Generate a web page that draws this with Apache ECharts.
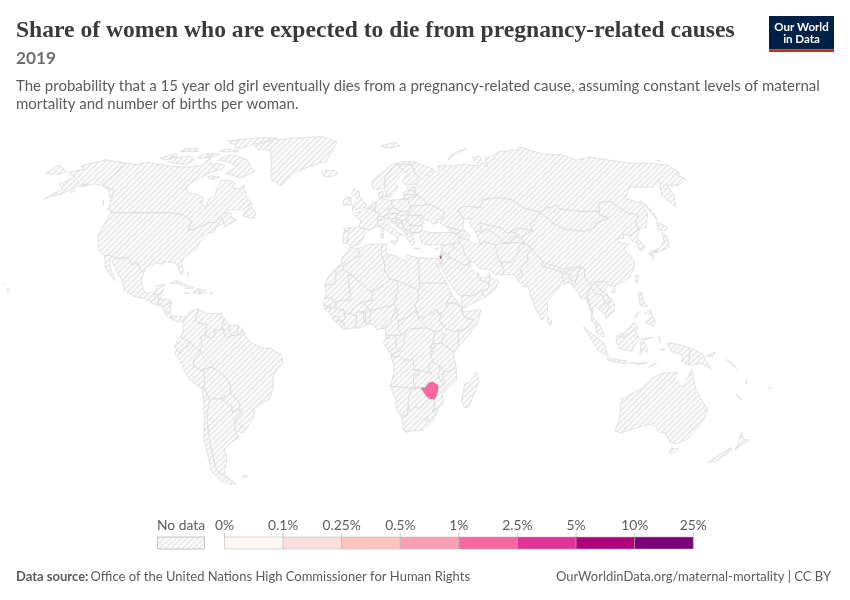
<!DOCTYPE html>
<html><head><meta charset="utf-8">
<script src="https://cdn.jsdelivr.net/npm/echarts@6/dist/echarts.min.js"></script>
<style>html,body{margin:0;padding:0;background:#fff}#c{width:850px;height:600px}</style>
</head><body><div id="c"></div>
<script>
// ---- DATA ----
const chartTitle = 'Share of women who are expected to die from pregnancy-related causes';
const chartYear = '2019';
const subtitleLines = ['The probability that a 15 year old girl eventually dies from a pregnancy-related cause, assuming constant levels of maternal','mortality and number of births per woman.'];
const legendTicks = ['0%','0.1%','0.25%','0.5%','1%','2.5%','5%','10%','25%'];
const binEdges = [0,0.1,0.25,0.5,1,2.5,5,10,25];
const binColors = ['#fff7f3','#fde0dd','#fcc5c0','#fa9fb5','#f768a1','#dd3497','#ae017e','#7a0177'];
const countryNames = ['Zimbabwe','Palestine'];
const countryValues = [1.7,6];
// outlines: lon,lat pairs
const americas = {
 Canada:["-141,69.6 -135,69 -128,70 -125,69.5 -115,68.5 -108,68 -100,68 -95,69 -94,72 -90,69 -85,69.5 -81.5,68.5 -82,67 -87,65.5 -93,62 -94.5,59 -92,57 -88,56.5 -82.5,55 -82,52.5 -79.5,51.3 -79,52 -79,54.5 -77,56 -78,58.5 -78,62.3 -73,62 -70,61 -69.5,59 -66,58.5 -64.5,60.3 -62,57.5 -60,55 -56,52.5 -60,50.2 -66,50.2 -69,48.5 -65,49 -64.5,47.5 -61,46 -66,43.7 -67,45 -69,47.4 -71,45.3 -75,45 -76.5,44 -79,43.3 -79,42.8 -83,42 -82.5,45.3 -84.5,46.5 -88.5,48.3 -95,49 -102,49 -110,49 -116,49 -123,49 -127,51 -130,54.7 -130,56 -133,58.5 -137,59 -139,60 -141,60.3",
 "-62,66 -68,63 -72,64 -78,65 -74,68 -80,70 -88,71 -85,73.5 -78,73 -70,71 -66,68","-117,70 -105,69 -102,71 -108,73 -118,72","-62,82.5 -72,83 -90,81.5 -85,77 -80,76.5 -76,78.5 -68,80.5","-125,72 -118,74 -116,73 -120,71","-80,75 -92,75 -90,76.5 -80,75.5","-90,79 -95,81 -88,81 -86,79","-117,75 -106,75 -108,76.5 -116,76.5","-92,73 -96,72 -95,74 -91,74","-97,72 -102,72 -100,74 -95,74","-85,64 -80,63.5 -84,62.5 -87,63.5","-59,47.7 -53,46.7 -53,49 -56,51.5 -58,50","-123.5,48.5 -128,50.7 -125,50","-132,53 -131,52 -133,54"],
 'United States':["-123,49 -116,49 -110,49 -102,49 -95,49 -88.5,48.3 -84.5,46.5 -82.5,45.3 -83,42 -79,42.8 -79,43.3 -76.5,44 -75,45 -71,45.3 -69,47.4 -67,45 -70,43.5 -70,41.7 -74,40.6 -75.5,38 -76,35 -78,34 -81,32 -81.3,30 -80,26.5 -80.5,25.2 -82,27 -83,29 -85,29.7 -89,30.2 -89.5,29.2 -93,29.7 -97,28 -97.3,26 -99.5,27.5 -101.5,29.8 -103,29 -106.5,31.8 -111,31.3 -114.8,32.5 -117.1,32.5 -120.5,34.5 -122.5,37.5 -124.3,40.3 -124,46 -124.7,48.4",
 "-141,69.6 -141,60.3 -139,60 -137,59 -133,58.5 -130,56 -131,55 -134,57.5 -140,59.7 -146,60.7 -151,59.3 -150,61 -154,59 -158,56.5 -164,54.6 -160,58.5 -165,60.5 -161,63.5 -165,64.5 -168,65.6 -162,67 -166,68.5 -156.5,71.2 -150,70.5","-156,20.2 -155,19.3 -155.8,19 -156,20","-158.2,21.5 -157.7,21.3 -158,21.7","-154,57.5 -152.5,58 -153,57"],
 Mexico:["-117.1,32.5 -114.8,32.5 -111,31.3 -106.5,31.8 -103,29 -101.5,29.8 -99.5,27.5 -97.3,26 -97.8,22.5 -96,19 -94,18.2 -91,18.8 -90.5,21 -87,21.5 -88,18.5 -89.2,17.8 -91,17.8 -91,16 -92.2,14.6 -95,16 -100,17 -105,19.5 -105.5,22 -109,26 -112.5,30 -114.5,31.5 -113,28 -110,24 -109.5,23 -112,25 -115,28"],
 Guatemala:["-92.2,14.6 -91,16 -91,17.8 -89.2,17.8 -89.2,15.9 -88.5,15.9 -89.3,14.4 -90,13.8"],
 Belize:["-89.2,17.8 -88.2,18.4 -88.3,16.2 -89.2,15.9"],
 Honduras:["-88.5,15.9 -85,16 -83.2,15 -84.8,14 -87.3,13 -87.8,13.4 -89.3,14.4"],
 'El Salvador':["-90,13.8 -89.3,14.4 -87.8,13.4 -88,13.1"],
 Nicaragua:["-87.3,13 -84.8,14 -83.2,15 -83.7,11 -85.7,11 -87.5,12.8"],
 'Costa Rica':["-85.7,11 -83.7,11 -82.6,9.5 -83,8.3 -85.7,10"],
 Panama:["-83,8.3 -82.6,9.5 -79.5,9.5 -77.3,8.7 -77.8,7.5 -80.5,7.3 -81.5,7.8"],
 Cuba:["-85,22 -82,23 -77,21 -74.2,20.2 -77.7,19.9 -78,20.7 -82,22"],
 Haiti:["-74.4,18.4 -71.7,18 -71.7,19.8 -73,19.9"],
 'Dominican Republic':["-71.7,18 -68.5,18.4 -69.5,19.4 -71.7,19.8"],
 Jamaica:["-78.3,18.3 -76.3,18.1 -77,18.5"],
 'Puerto Rico':["-67.2,18 -65.7,18.2 -66.3,18.5"],
 Trinidad:["-61.9,10.1 -61,10.2 -61.2,10.7"],
 Bahamas:["-78,25 -77.5,26.5 -77.2,25.5"],
 Greenland:["-73,78.3 -68,76 -60,76 -55,70 -53,66 -50,62 -44,60 -40,65 -32,68 -22,70.5 -20,75 -18,80 -30,83.5 -50,82.5 -62,81.5 -66,80.5"],
 Colombia:["-77.3,8.7 -75.5,10.7 -72,12.2 -71.5,11 -72.5,8 -71,7 -67.5,6.2 -67.8,2 -69.9,1.7 -69.4,-1 -70,-4.2 -72.5,-2.4 -75.2,0 -78.8,1.4 -77.5,4 -77.8,7.5"],
 Venezuela:["-72,12.2 -68,10.5 -62,10.6 -60,8.5 -61,5.2 -60,4.5 -64,4 -64,1.5 -66.8,1.2 -67.8,2 -67.5,6.2 -71,7 -72.5,8 -71.5,11"],
 Guyana:["-60,8.5 -57.3,6 -58,4 -56.5,1.9 -58.8,1.2 -60,2.5 -60,4.5 -61,5.2"],
 Suriname:["-57.3,6 -54,5.9 -54.3,2.3 -56.5,1.9 -58,4"],
 'French Guiana':["-54,5.9 -51.7,4.2 -52.8,2.3 -54.3,2.3"],
 Ecuador:["-78.8,1.4 -75.2,0 -75.3,-1.5 -78.3,-3.4 -79,-5 -80.3,-3.4 -81,-2 -80,0.5"],
 Peru:["-81.3,-4.5 -80.3,-3.4 -79,-5 -78.3,-3.4 -75.3,-1.5 -75.2,0 -72.5,-2.4 -70,-4.2 -73,-7 -73.5,-9.5 -70.6,-11 -69,-11 -69,-16.5 -69.5,-17.5 -70.4,-18.3 -76,-14 -79,-8"],
 Bolivia:["-69.6,-11 -65.4,-9.8 -60,-13.5 -58,-16.3 -58,-20 -62.6,-22 -66.2,-22 -67.7,-22.8 -68.5,-20 -69.5,-17.5 -69,-16.5 -69,-11"],
 Chile:["-70.4,-18.3 -69.5,-17.5 -68.5,-20 -67.7,-22.8 -69.7,-28 -70.3,-33 -71.2,-39 -71.9,-45 -72.3,-50 -68.5,-52.3 -65.5,-54.8 -69,-55 -72,-54 -75.3,-50 -74,-43 -73.5,-37 -71.5,-31 -70.2,-22"],
 Argentina:["-66.2,-22 -62.6,-22 -58,-24.8 -58.2,-27.2 -54.7,-26 -53.8,-27.2 -57.6,-30.2 -58.4,-34 -57,-36.5 -62,-39 -65,-41 -65.5,-45 -69,-50.5 -68.5,-52.3 -72.3,-50 -71.9,-45 -71.2,-39 -70.3,-33 -69.7,-28 -67.7,-22.8"],
 Paraguay:["-62.6,-22 -58,-20 -55.8,-22.3 -54.5,-24 -54.7,-26 -58.2,-27.2 -58,-24.8"],
 Uruguay:["-57.6,-30.2 -53.3,-33.7 -55,-35 -58.4,-34"],
 Brazil:["-60,4.5 -60,2.5 -58.8,1.2 -56.5,1.9 -54.3,2.3 -52.8,2.3 -51.7,4.2 -50,1 -48,-0.7 -44,-2.5 -40,-2.8 -35.3,-5.2 -34.8,-8 -39,-13 -39.5,-18 -41,-22 -45,-23.7 -48.5,-26 -49,-29 -53.3,-33.7 -57.6,-30.2 -53.8,-27.2 -54.7,-26 -54.5,-24 -55.8,-22.3 -58,-20 -58,-16.3 -60,-13.5 -65.4,-9.8 -69.6,-11 -70.6,-11 -73.5,-9.5 -73,-7 -70,-4.2 -69.4,-1 -69.9,1.7 -67.8,2 -66.8,1.2 -64,1.5 -64,4"],
 Falklands:["-61,-51.8 -58,-51.5 -59,-52.3"]
};
const africa = {
 Morocco:["-5.9,35.8 -2.2,35.1 -1.2,32.5 -5,31 -8.7,28.7 -11.5,28.2 -9.8,29.5 -9.5,32 -6.8,34"],
 'Western Sahara':["-11.5,28.2 -8.7,28.7 -8.7,27.3 -12,26 -12,23.5 -13,21.3 -17,21.4 -15,25"],
 Algeria:["-2.2,35.1 3,36.9 8.6,36.9 8.3,33 9.5,30 9.8,26.5 12,23.5 5.5,19.2 3.2,19 -4.9,25 -8.7,27.3 -8.7,28.7 -5,31 -1.2,32.5"],
 Tunisia:["8.6,36.9 11,37 10.5,34 11.5,33 9.5,30 8.3,33"],
 Libya:["11.5,33 15,32.3 19,30.3 20,32.7 25,31.7 25,20 24,19.5 15,23 12,23.5 9.8,26.5 9.5,30"],
 Egypt:["25,31.7 31,31.5 34.2,31.3 34.9,29.5 34.2,27.8 33.2,28.5 32.6,29.9 34,26.5 37,22 25,22"],
 Sudan:["25,22 37,22 38.6,18 36.5,14.3 36,12.7 34.2,10.5 33,10 32,12 28,9.5 24,8.7 23.5,11 22.5,14 24,15.7 24,19.5 25,20"],
 'South Sudan':["24,8.7 28,9.5 32,12 33,10 34.2,10.5 33,7.9 35,5.2 33.9,4.2 30.8,3.5 27.5,5"],
 Eritrea:["36.5,14.3 38.6,18 43,12.7 40,14.5"],
 Ethiopia:["36.5,14.3 40,14.5 43,12.7 42.9,11 44,9 48,8 45,5 42,4 39.5,3.5 35.9,4.6 35,5.2 33,7.9 34.2,10.5 36,12.7"],
 Djibouti:["43,12.7 43.3,11.5 42.9,11"],
 Somalia:["42.9,11 51.2,11.9 50,8 46,2.5 41.5,-1.7 41,-0.8 41,3.9 42,4 45,5 48,8 44,9"],
 Kenya:["35.9,4.6 39.5,3.5 42,4 41,3.9 41,-0.8 41.5,-1.7 39.2,-4.7 37.7,-3.2 34,-1 34,1 35,2"],
 Uganda:["30.8,3.5 33.9,4.2 35,2 34,1 34,-1 29.8,-1 30.5,1"],
 Tanzania:["34,-1 37.7,-3.2 39.2,-4.7 39.5,-7 40.4,-10.4 37,-11.6 34.9,-11.5 33.3,-9.5 31,-8.6 29.3,-6 29.8,-4.4 30.8,-2.5 30.5,-1"],
 Rwanda:["29.8,-1 30.5,-1 30.8,-2.5 29,-2.7"],
 Burundi:["29,-2.7 30.8,-2.5 29.8,-4.4 29.2,-3.5"],
 'DR Congo':["12.2,-6 12.3,-5 13.5,-4.6 16,-3.7 17.5,-1 17.7,1.5 18.5,3.5 19,4.5 25,5 27.5,5 30.8,3.5 30.5,1 29.8,-1 29,-2.7 29.2,-3.5 29.3,-6 30.7,-8.2 28.9,-8.5 28.5,-11 29.7,-12.2 28,-12 25.5,-11.4 22,-11 21.8,-7.3 17.5,-7.2 16,-5.9"],
 Angola:["12.2,-6 16,-5.9 17.5,-7.2 21.8,-7.3 22,-11 24,-11 24,-13 22,-13 22,-16 23.4,-17.6 20.8,-18 13.9,-17.4 11.8,-17.3 13.5,-12 13.2,-9"],
 Zambia:["22,-11 25.5,-11.4 28,-12 29.7,-12.2 28.5,-11 28.9,-8.5 30.7,-8.2 33.3,-9.5 32.8,-13.6 30.3,-15.6 28.8,-16 25.3,-17.8 23.4,-17.6 22,-16 22,-13 24,-13 24,-11"],
 Malawi:["33.3,-9.5 34.9,-11.5 34.8,-14 35.8,-16 35.2,-17 34.3,-15.5 33,-14 32.8,-13.6"],
 Mozambique:["40.4,-10.4 40.7,-15 37,-18 34.8,-20 35.5,-24 32.9,-26 32.9,-26.8 32,-26 31.3,-22.4 32,-21.3 32.8,-19 32.8,-16.9 30.3,-15.6 32.8,-13.6 33,-14 34.3,-15.5 35.2,-17 35.8,-16 34.8,-14 34.9,-11.5 37,-11.6"],
 Zimbabwe:["25.3,-17.8 27,-17.9 28.8,-16 30.3,-15.6 32.8,-16.9 32.8,-19 32,-21.3 31.3,-22.4 29.4,-22.2 27.5,-20.8 25.9,-18.8"],
 Botswana:["20,-22 21,-18.3 23.4,-18 25.3,-17.8 25.9,-18.8 27.5,-20.8 29.4,-22.2 27,-23.7 25.5,-25.7 23,-25.3 20.8,-26.8 20,-24.8"],
 Namibia:["11.8,-17.3 13.9,-17.4 20.8,-18 23.4,-17.6 25.3,-17.8 23.4,-18 21,-18.3 20,-22 20,-28.4 17,-28.7 15,-26.8 14.5,-22.5"],
 'South Africa':["17,-28.7 20,-28.4 20,-24.8 20.8,-26.8 23,-25.3 25.5,-25.7 27,-23.7 29.4,-22.2 31.3,-22.4 32,-26 32.9,-26.8 32.4,-28.5 30,-31.5 27,-34 22,-34.2 20,-34.8 18.4,-34 18,-32"],
 Lesotho:["27,-29.6 29,-28.7 29.4,-29.6 28,-30.6"],
 Eswatini:["31,-25.8 32,-26 31.8,-27 30.9,-26.8"],
 Madagascar:["49.3,-12 50.5,-15.5 47,-25 45,-25.5 43.5,-23 44.3,-16.5 46.5,-15.5"],
 Mauritania:["-17,21.4 -13,21.3 -12,23.5 -12,26 -8.7,27.3 -4.9,25 -6.5,25 -5.5,15.5 -9.5,15.5 -12.2,14.7 -14.5,16.6 -16.5,16 -16,19"],
 Mali:["-12.2,14.7 -9.5,15.5 -5.5,15.5 -6.5,25 -4.9,25 3.2,19 4.2,19 4,15.4 0.3,14.9 -3,13.5 -4.5,12 -5.5,10.4 -8,10.4 -8.3,11.7 -11.5,12.3"],
 Niger:["3.2,19 5.5,19.2 12,23.5 15,23 15.5,20 13.5,13.7 9,12.8 3.6,11.7 2.4,12.2 0.3,14.9 4,15.4 4.2,19"],
 Chad:["15,23 24,19.5 24,15.7 22.5,14 23.5,11 22,11 19,9 15.5,7.5 14,9 15,10 14.5,12.7 13.5,13.7 15.5,20"],
 'Central African Republic':["15.5,7.5 19,9 22,11 23.5,11 24,8.7 27.5,5 25,5 19,4.5 18.5,3.5 16,2 16.2,3 15,4.5"],
 Senegal:["-16.5,16 -14.5,16.6 -12.2,14.7 -11.5,12.3 -13.7,12.6 -16.7,12.4 -17.5,14.7"],
 Gambia:["-16.8,13.6 -14,13.7 -14,13.2 -16.8,13.2"],
 'Guinea-Bissau':["-16.7,12.4 -13.7,12.6 -15,11"],
 Guinea:["-13.7,12.6 -11.5,12.3 -8.3,11.7 -8,10.4 -7.8,8.5 -9.4,7.4 -10.7,9.3 -13,9.3 -15,11"],
 'Sierra Leone':["-13,9.3 -10.7,9.3 -10.4,8 -11.5,7 -13.2,8.3"],
 Liberia:["-11.5,7 -10.4,8 -9.4,7.4 -8.5,7.5 -7.5,4.4 -9,5"],
 "Cote d'Ivoire":["-8.5,7.5 -7.8,8.5 -8,10.4 -5.5,10.4 -2.8,9.5 -3,5.1 -7.5,4.4"],
 'Burkina Faso':["-5.5,10.4 -4.5,12 -3,13.5 0.3,14.9 2.4,12.2 0.9,11 -2.8,11 -2.8,9.5"],
 Ghana:["-2.8,11 0.1,11 0.5,8 1.2,6 -2,4.8 -3,5.1 -2.8,9.5"],
 Togo:["0.1,11 0.9,11 1.7,6.2 1.2,6 0.5,8"],
 Benin:["0.9,11 2.4,12.2 3.6,11.7 2.7,6.4 1.7,6.2"],
 Nigeria:["2.7,6.4 3.6,11.7 9,12.8 13.5,13.7 14.5,12.7 13,9.5 11.7,7 8.6,4.8 6,4.3 4.5,6.3"],
 Cameroon:["8.6,4.8 11.7,7 13,9.5 14.5,12.7 15,10 14,9 15.5,7.5 15,4.5 16.2,3 16,2 13.2,2.2 9.8,2.3 9.7,4"],
 Gabon:["9.8,1 11.3,1 11.3,2.2 13.2,2.2 14.3,1 14.2,-2.3 11.7,-3.5 11.1,-3.9 8.8,-0.8"],
 'Equatorial Guinea':["9.8,2.3 11.3,2.2 11.3,1 9.8,1"],
 Congo:["13.2,2.2 16,2 18.5,3.5 17.7,1.5 17.5,-1 16,-3.7 13.5,-4.6 12.3,-5 11.1,-3.9 11.7,-3.5 14.2,-2.3 14.3,1"]
};
const europe = {
 Iceland:["-24,65.5 -22,64 -18,63.5 -14,65 -16,66.4 -22,66.4"],
 Spain:["-9.3,43 -1.8,43.4 3.2,42.4 0.5,40.5 0,38.8 -2,36.8 -5.4,36 -7.4,37.2 -7,39.5 -6.6,41.9 -8.8,42"],
 Portugal:["-8.8,42 -6.6,41.9 -7,39.5 -7.4,37.2 -9,37 -9.5,38.7"],
 France:["-1.8,43.4 3.2,42.4 7.5,43.7 7,46 7.6,47.6 8.2,48.9 6,49.5 2.5,51 -1.5,49.5 -4.7,48.4 -1.2,46","8.7,42.5 9.5,43 9.4,41.4"],
 'United Kingdom':["-5.5,50 1.3,51.2 1.7,52.7 0,53.5 -1.8,55.5 -2,57.6 -5,58.6 -6,56.5 -3,54.5 -5,52","-8,54.4 -5.7,54.6 -6.2,55.2 -7.5,55.1"],
 Ireland:["-10,52 -6,52.2 -6,54 -8,54.4 -7.5,55.1 -8.3,55.2 -10,54"],
 Belgium:["2.5,51 4.3,51.4 6,50.7 6,49.5"],
 Netherlands:["3.5,51.4 5,53.2 7,53.3 6,50.7 4.3,51.4"],
 Germany:["6,50.7 7,53.3 9,54.8 14.2,53.9 15,51 12.2,50.3 13.8,48.7 10,47.5 7.6,47.6 8.2,48.9 6,49.5"],
 Switzerland:["7,46 7.6,47.6 10,47.5 10.4,46.6 9,46"],
 Italy:["7.5,43.7 7,46 9,46 10.4,46.6 12.2,47 13.7,46.5 12.3,45 12.5,44 16,41.8 18.5,40.2 16.8,40.5 16,38 15.7,40 12.5,41.5 10.2,43","12.5,38 15.6,38.2 15,36.7","8.3,41 9.7,41 9.5,39.2 8.5,39"],
 Austria:["10,47.5 13.8,48.7 17,48.7 16.2,46.9 13.7,46.5 12.2,47 10.4,46.6"],
 Denmark:["8.2,55 8.2,57 10.5,57.7 10.5,55 9,54.8","11,55.5 12.5,56 12.3,55"],
 Norway:["5,59 5,62 12,66 16,68.5 22,70.3 31,70.3 29,69 25,69 20,69 15,66 12.3,63.5 12,61 11.2,59 8,58","12,78 22,80 25,78 16,76.7"],
 Sweden:["11.2,59 12,61 12.3,63.5 15,66 20,69 24,66 21,64 17,61 19,59.5 16.5,57 14,55.5 12.8,55.5"],
 Finland:["20,69 25,69 29,69 29.5,66 31.5,62.8 27.8,60.5 23,60 21.5,61.5 25,65 24,66"],
 Estonia:["23.5,59.2 28,59.5 27.5,57.6 24.5,58"],
 Latvia:["21,57 24.5,58 27.5,57.6 28,56 25,56.3 21,56"],
 Lithuania:["21,56 25,56.3 28,56 26.7,55.5 23,54.3 21,55.3"],
 Poland:["14.2,53.9 19,54.4 23,54.3 23.5,52 24,50.7 22.7,49.2 18.8,49.6 15,51"],
 Czechia:["12.2,50.3 15,51 18.8,49.6 17,48.7 13.8,48.7"],
 Slovakia:["17,48.7 18.8,49.6 22.7,49.2 22,48.4 18,47.8"],
 Hungary:["16.2,46.9 17,48.7 18,47.8 22,48.4 22.9,48 21,46.2 18.8,45.9"],
 Slovenia:["13.7,46.5 16.2,46.9 16.2,46.4 15.5,45.5 13.6,45.5"],
 Croatia:["13.6,45.5 15.5,45.5 16.2,46.4 18.8,45.9 19,45 16,45 17,43.5 18.5,42.5 15,44.5"],
 Bosnia:["16,45 19,45 19.3,43.5 18.5,42.5 17,43.5"],
 Serbia:["18.8,45.9 21,46.2 22.5,44.2 23,43 22.3,42.3 20.5,42.3 19.3,43.5 19,45"],
 Montenegro:["18.5,42.5 19.3,43.5 20.5,42.5 19.3,41.9"],
 Albania:["19.3,41.9 20.5,42.3 21,40.7 20,39.7 19.4,40.5"],
 'North Macedonia':["20.5,42.3 22.3,42.3 23,41.3 21,40.7"],
 Greece:["21,40.7 23,41.3 26.3,41.5 24,40.5 23,40 24,38 23,36.5 21.5,37 21,38.5 20,39.7","23.5,35.5 26.3,35.2 24,35"],
 Bulgaria:["22.5,44.2 27.5,44 28.5,43.5 27.7,42 26.3,41.5 23,41.3 22.3,42.3 23,43"],
 Romania:["22.9,48 26.5,48.2 28.2,46.5 28.2,45.4 29.6,45 28.6,44 27.5,44 22.5,44.2 21,46.2"],
 Moldova:["26.5,48.2 29,47.8 30,46.4 28.2,45.4 28.2,46.5"],
 Ukraine:["24,50.7 24,51.7 31,52 34,52.3 40,49.6 39,47 35,46 36.5,45.3 33.5,44.5 32.5,46 30.7,46 30,46.4 29,47.8 26.5,48.2 22.9,48 22,48.4 22.7,49.2"],
 Belarus:["23,54.3 26.7,55.5 28,56 31,54.6 32,53 31,52 24,51.7 24,50.7 23.5,52"],
 Russia:["28,59.5 30,60 27.8,60.5 31.5,62.8 29.5,66 29,69 31,70.3 33,69.3 41,67 40,66 35,64.5 38,64 40,65.5 44,66.5 44,68.5 54,68.5 60,69 68,68.5 67,72 72.5,73 73,68 75,72 80,73 87,75 100,76 104,77.7 113,74 125,73.5 130,71 140,72.5 150,71 160,69.7 170,69.7 180,68.8 180,65 177,64.5 179,62.5 170,60 164,60 162,56 156.7,51 155.5,56 163,62 160,61 155,59.3 143,59.3 135,54.7 141,53 140,48.5 135,43.5 131,42.6 131,45 135,48.3 130.5,48.8 126,53.5 120,53 117,49.6 108,49.5 98,50.5 98,52 92,50.7 87.3,49.2 80,51 76.5,54 70,55 61,54 59,51 51,51.5 47,50 49,46.5 47.5,43 48.5,41.8 46.5,41.9 40,43.5 37,45 39,47 40,49.6 34,52.3 31,52 32,53 31,54.6 28,56 27.5,57.6",
 "-180,68.8 -175,67.5 -170,66 -172,64.5 -176,65 -180,65","52,71 56,73 68,76.7 60,75 54,73","142,54 143.5,49 142.5,46 142,50","178.5,71 180,71.4 180,70.8","20,54.5 22.5,55 22.5,54.3"]
};
const asia = {
 Turkey:["26.3,41.5 28,42 31.5,41.3 36,41.3 41.5,41.5 43.5,41 44.8,39.7 44.5,37.2 42,37.2 36.5,36.3 36,36.8 30.5,36.5 27.3,37 26.5,39.5"],
 Georgia:["40,43.5 46.5,41.9 45,41.2 43.5,41 41.5,41.5"],
 Armenia:["43.5,41 45,41.2 46.5,39 44.8,39.7"],
 Azerbaijan:["45,41.2 46.5,41.9 48.5,41.8 50,40.3 49,38.4 46.5,39"],
 Cyprus:["32.5,34.8 34.5,35.6 33.5,34.7"],
 Syria:["36,36.8 36.5,36.3 42,37.2 41,34.5 38.8,33.4 36,32.6 35.8,33.3 36.4,34.6 35.8,35.8"],
 Lebanon:["35.1,33.1 35.8,33.3 36.4,34.6 35.9,34.6"],
 Israel:["34.2,31.3 35.1,33.1 35.8,33.3 36,32.6 35.55,32.4 35,32.5 34.9,31.4 35.5,31.4 35,29.5 34.9,29.5"],
 Palestine:["35,32.5 35.55,32.4 35.5,31.4 34.9,31.4"],
 Jordan:["35,29.5 36,29.2 39,32 39.2,32.2 38.8,33.4 36,32.6 35.55,32.4 35.5,31.4"],
 'Saudi Arabia':["36,29.2 34.7,28 39,21 42.8,16.5 43.2,17.3 44,17.5 47,17 52,19 55,20 55.6,22 52,23 51,24.7 50,25.5 48,28.5 46.5,29 44.7,29.2 39,32"],
 Kuwait:["46.5,29 48,28.5 48.3,29.9 47.6,30"],
 Qatar:["51,24.7 51.5,25.5 51.2,26.2 50.8,25.5"],
 UAE:["52,23 55.6,22 56.3,24.9 56,26 54,24.2 51.5,24.2"],
 Oman:["55.6,22 55,20 52,19 53,16.7 58,19.5 59.8,22.5 56.5,24.5 56.3,24.9"],
 Yemen:["43.2,12.7 45,13 53,16.7 52,19 47,17 44,17.5 43.2,17.3 42.8,16"],
 Iraq:["42,37.2 44.5,37.2 46,35.7 46,33 48.5,30.3 47.6,30 46.5,29 44.7,29.2 39,32 39.2,32.2 38.8,33.4 41,34.5"],
 Iran:["44.8,39.7 46.5,39 49,38.4 50,37.3 54,36.9 56,38 61,36.6 61,31.5 61.8,30 63,27 61.6,25.1 57.5,25.7 56.5,27 52,27.7 50,30 48.5,30.3 46,33 46,35.7 44.5,37.2"],
 Afghanistan:["61,36.6 65,37.3 70,37.5 74.8,37.3 71.5,36 71,34 69.3,31.9 66.5,30 61.8,30 61,31.5"],
 Pakistan:["61.8,30 66.5,30 69.3,31.9 71,34 71.5,36 74.8,37.3 77,35.5 74.5,32.5 74.5,30.5 70,28 71,25 68,23.7 66.5,25.4 61.6,25.1 63,27"],
 India:["77,35.5 79,32.5 81,30 80,28.7 88,26.4 89.8,26.7 92,26.8 97,28.3 95,25 93.5,22 92,23.5 91,24 92.3,25 88.5,26 88.2,24 89,21.8 87,21 82,16.7 80.2,15 80,11 77.5,8 75,12 73,18 72.6,21 70,20.8 68,23.7 71,25 70,28 74.5,30.5 74.5,32.5"],
 Nepal:["80,28.7 81,30 88.2,27.8 88,26.4"],
 Bhutan:["89,27.3 92,27.8 92,26.8 89.8,26.7"],
 Bangladesh:["88.5,26 92.3,25 91,24 92,23.5 92.3,20.8 91,22.5 89,21.8 88.2,24"],
 'Sri Lanka':["79.8,9 81.8,7.5 81,6 80,6.5"],
 China:["74.8,37.3 73.7,39.5 80,42 80.3,45 82.5,45.5 87.3,49.2 91,46 91,45 96,42.7 105,41.8 111,43.7 112,45 119.5,47 116,48 117,49.6 120,53 126,53.5 130.5,48.8 135,48.3 131,45 131,42.6 128,41.5 124.3,40 122,40.7 121.5,39 118,39 119,37.5 122.5,37 119.3,35 122,31 121.5,28.5 118,24.3 113.5,22.2 110,20.5 108,21.6 106.5,22.8 102,22.4 101.5,21.2 99.5,22 98,24 98.7,27.5 97,28.3 92,27.8 89,27.3 88.2,27.8 81,30 79,32.5 77,35.5","108.7,19.2 110.5,20 110.5,18.8 109,18.3"],
 Mongolia:["87.3,49.2 92,50.7 98,52 98,50.5 108,49.5 117,49.6 116,48 119.5,47 112,45 111,43.7 105,41.8 96,42.7 91,45 91,46"],
 Kazakhstan:["47,50 51,51.5 59,51 61,54 70,55 76.5,54 80,51 87.3,49.2 82.5,45.5 80.3,45 80,42 74,43 70,41.7 68,41 66,43 61,44 56,45 56,41.3 53,42 51,44.5 53,46.8 49,46.5"],
 Uzbekistan:["56,45 61,44 66,43 68,41 70,41.7 73,40.5 70.5,39.5 67.5,37.3 65,37.3 62,41 59,42.5 56,41.3"],
 Turkmenistan:["53,42 56,41.3 59,42.5 62,41 65,37.3 61,36.6 56,38 54,36.9 53.8,39"],
 Kyrgyzstan:["70,41.7 74,43 80,42 73.7,39.5 70.5,39.5 73,40.5"],
 Tajikistan:["67.5,37.3 70.5,39.5 73.7,39.5 74.8,37.3 70,37.5 65,37.3"],
 'North Korea':["124.3,40 128,41.5 131,42.6 129.7,41 127.5,39.7 128.3,38.6 126.5,37.7 125,38"],
 'South Korea':["126.5,37.7 128.3,38.6 129.4,36 128,34.8 126.3,34.5"],
 Japan:["131,34 136,35.5 139.5,38 141,41.3 142,39.5 140.8,36 137,34.6 132.5,33.8","130,33.5 132,33 131,31","140,42.5 141.5,45.4 145,43.5 143,42","132.5,33.8 134.5,34.2 134,33.4"],
 Taiwan:["121,25.2 122,25 120.8,22 120,23"],
 Myanmar:["92.3,20.8 93.5,22 95,25 97,28.3 98.7,27.5 98,24 99.5,22 101,21.5 100,20.3 97.8,17.5 98.5,14 99,10.5 98,14 97.5,16.5 95.5,15.8 94.3,18"],
 Thailand:["100,20.3 101,19 102,18 104.5,17.5 105.5,14.3 102.5,12 100.9,13.4 100,13 99.3,9.5 102,6.3 100.3,6.5 98.5,8 99,10.5 98.5,14 97.8,17.5"],
 Laos:["101,21.5 102,22.4 104,19.5 107,17 107.5,15 105.5,14.3 104.5,17.5 102,18 101,19 100,20.3"],
 Vietnam:["102,22.4 106.5,22.8 108,21.6 105.8,19 109,15 109.2,11.5 105,8.6 104.8,10.4 106,11.5 107.5,15 107,17 104,19.5"],
 Cambodia:["102.5,12 105.5,14.3 107.5,15 106,11.5 104.8,10.4"],
 Malaysia:["100.3,6.5 102,6.3 103.5,4 104,1.4 101,3","109.6,2 113,3.2 117,7 119,5 117.5,4.2 115,3 112,1.2"],
 Indonesia:["95.3,5.5 104,-1 106,-5.8 102,-4 98,1","109.6,2 112,1.2 115,3 117.5,4.2 119,1 116,-4 111,-3 109,0","105.5,-6.5 114.5,-7.7 114,-8.7 106,-7.5","119.5,-5.5 120,0.8 125,1.4 121,0.3 123,-4.5 121,-3","131,-0.8 134,-1 138,-1.7 141,-2.6 141,-9.1 138,-8 138,-5.5 133,-4","115,-8.3 120,-8.4 123,-8.3 120,-9","127.5,1.8 128.5,-0.5 127.7,0","123.7,-10.2 127,-8.4 125,-9","128,-3 130.5,-3.2 129,-3.5"],
 'Papua New Guinea':["141,-2.6 145,-4.3 148,-6 147.5,-7 151,-10.6 146,-8.5 143,-9 141,-9.1","148.5,-5.7 152,-4.2 151,-6"],
 Philippines:["120.5,18.4 122.2,18.4 122,15 124,13 120.5,13.8","122,7 125.5,9.7 126.4,7 125.3,5.7","117.3,8.5 119.5,11.2 118,9","122,10.5 125,12 125,10"]
};
const oceania = {
 Australia:["114,-22 122,-18 126,-14 130,-12.3 136.7,-12 135.5,-15 140,-17.5 142.5,-10.8 146,-19 153,-26 153,-30 150,-37.5 146,-39 143,-38.8 138,-35 135.5,-34.8 131,-31.5 124,-33 118,-35 115,-34.3 115,-30","144.7,-40.7 148.3,-41 147,-43.5 145.5,-42.8"],
 'New Zealand':["172.7,-34.5 176,-37.5 178.5,-37.7 175.5,-41.5 174.7,-39","172.7,-40.5 174.2,-41.7 170.5,-46 167,-46.3"],
 'New Caledonia':["164,-20.2 167,-22.3 165,-21.5"],
 Fiji:["177.5,-17.5 178.6,-17.7 178,-18.2"],
 Solomon:["157,-7 161,-9.5 162,-10.7 159,-8.5"],
 Vanuatu:["167,-15 167.5,-16.5 167,-16"]
};

// Robinson projection table (every 5 degrees)
const robX=[1,.9986,.9954,.99,.9822,.973,.96,.9427,.9216,.8962,.8679,.835,.7986,.7597,.7186,.6732,.6213,.5722,.5322];
const robY=[0,.062,.124,.186,.248,.31,.372,.434,.4958,.5571,.6176,.6769,.7346,.7903,.8435,.8936,.9394,.9761,1];
const mapCx=363, mapCy=341, mapKx=2.32, mapKy=211.8;
function lookup(t,a){const v=Math.min(Math.abs(a),89.999)/5,i=Math.floor(v),f=v-i;return t[i]+(t[i+1]-t[i])*f;}
const projection={
 project(p){const la=p[1];return [mapCx+mapKx*lookup(robX,la)*p[0], mapCy-mapKy*lookup(robY,la)*Math.sign(la)];},
 unproject(q){const Y=(mapCy-q[1])/mapKy;let i=0;while(i<17&&robY[i+1]<Math.abs(Y))i++;const la=Math.sign(Y)*5*(i+(Math.abs(Y)-robY[i])/(robY[i+1]-robY[i]));return [(q[0]-mapCx)/(mapKx*lookup(robX,la)),la];}
};

// build GeoJSON
const allRegions=Object.assign({},americas,africa,europe,asia,oceania);
const features=[];let bx0=1e9,by0=1e9,bx1=-1e9,by1=-1e9;
Object.keys(allRegions).forEach(name=>{
 const polys=allRegions[name].map(s=>{const r=s.trim().split(/\s+/).map(t=>t.split(',').map(Number));r.push(r[0]);
  r.forEach(pt=>{const q=projection.project(pt);bx0=Math.min(bx0,q[0]);bx1=Math.max(bx1,q[0]);by0=Math.min(by0,q[1]);by1=Math.max(by1,q[1]);});
  return [r];});
 features.push({type:'Feature',properties:{name},geometry:{type:'MultiPolygon',coordinates:polys}});
});
echarts.registerMap('world',{type:'FeatureCollection',features});

function hatch(size,count,color,lw){
 const c=document.createElement('canvas');c.width=c.height=size;const g=c.getContext('2d');
 g.fillStyle='#fff';g.fillRect(0,0,size,size);g.strokeStyle=color;g.lineWidth=lw;
 const p=size/count;g.beginPath();
 for(let i=-count-1;i<=2*count+1;i++){g.moveTo(i*p-p,size+p);g.lineTo(i*p+size+p,-p);}
 g.stroke();return c;
}
const noData={image:hatch(34,6,'#ebebeb',2.2),repeat:'repeat'};

const INK='#5b5b5b';
function txt(x,y,text,font,fill,align){return {type:'text',x,y,silent:true,style:{text,font,fill,textAlign:align||'left',textVerticalAlign:'middle'}};}
const gfx=[
 txt(16,30.5,chartTitle,'bold 23.6px "Liberation Serif"','#3a3a3a'),
 txt(16,58,chartYear,'bold 17.2px Lato','#6e6e6e'),
 txt(16,86,subtitleLines[0],'15px Lato',INK),
 txt(16,104.5,subtitleLines[1],'15px Lato',INK),
 {type:'rect',silent:true,shape:{x:769,y:16,width:65,height:33.5},style:{fill:'#002147'}},
 {type:'rect',silent:true,shape:{x:769,y:49.5,width:65,height:2.5},style:{fill:'#ce261e'}},
 txt(801.5,27,'Our World','bold 11.5px Lato','#fff','center'),
 txt(801.5,39,'in Data','bold 11.5px Lato','#fff','center'),
 txt(16,576.5,'Data source:','bold 13px Lato',INK),
 txt(90.5,576.5,'Office of the United Nations High Commissioner for Human Rights','13px Lato',INK),
 txt(831,576.5,'OurWorldinData.org/maternal-mortality | CC BY','13px Lato',INK,'right'),
 txt(181,525.5,'No data','13.8px Lato',INK,'center'),
 {type:'rect',silent:true,shape:{x:157.5,y:537,width:47,height:12},style:{fill:noData,stroke:'#c4c4c4',lineWidth:1}}
];
const lx0=224.5,lw=58.6;
binColors.forEach((c,i)=>gfx.push({type:'rect',silent:true,shape:{x:lx0+i*lw,y:537,width:lw,height:12},style:{fill:c,stroke:'#b0b0b0',lineWidth:.5}}));
legendTicks.forEach((t,i)=>{
 gfx.push({type:'line',silent:true,shape:{x1:lx0+i*lw,y1:533,x2:lx0+i*lw,y2:537},style:{stroke:'#aaa',lineWidth:.7}});
 gfx.push(txt(lx0+i*lw,525.5,t,'13.8px Lato',INK,'center'));
});

const chart=echarts.init(document.getElementById('c'),null,{renderer:'canvas'});
chart.setOption({
 animation:false,backgroundColor:'#fff',
 visualMap:{show:false,type:'piecewise',seriesIndex:0,
  pieces:binColors.map((c,i)=>({min:binEdges[i],max:binEdges[i+1],color:c}))},
 graphic:{elements:gfx},
 series:[{type:'map',map:'world',projection,roam:false,silent:true,
  left:bx0,top:by0,width:bx1-bx0,height:by1-by0,
  label:{show:false},
  itemStyle:{areaColor:noData,borderColor:'#d8d8d8',borderWidth:.7},
  emphasis:{disabled:true},select:{disabled:true},
  data:countryNames.map((n,i)=>({name:n,value:countryValues[i],itemStyle:{borderColor:'#8a8a8a',borderWidth:.6}}))
 }]
});
</script></body></html>
